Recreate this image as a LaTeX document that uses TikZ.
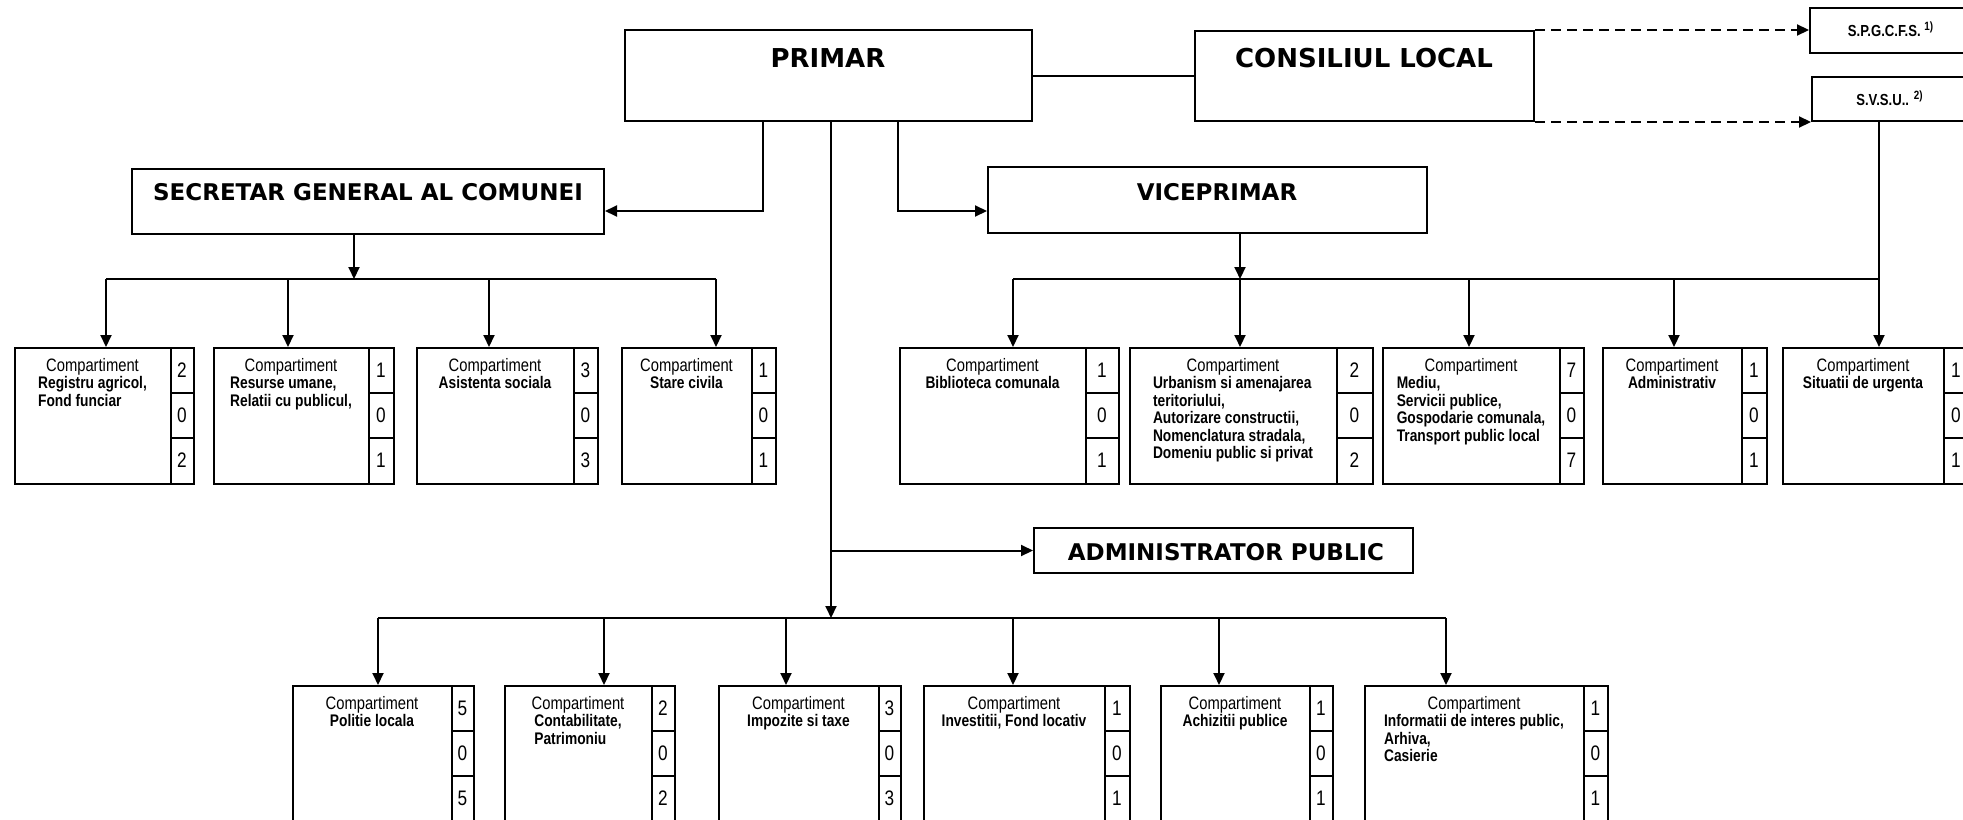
\documentclass[tikz,border=0pt]{standalone}
\usepackage{fontspec}
\newfontfamily\headfont{DejaVu Sans}
\newfontfamily\narrowfont[FakeStretch=0.82]{Liberation Sans}
\usepackage{tikz}
\usetikzlibrary{arrows.meta}
\tikzstyle{headbox}=[draw, line width=1pt, inner sep=0pt]
\tikzstyle{headtext}=[font=\headfont\bfseries\fontsize{11.5}{13}\selectfont, inner sep=0pt]
\tikzstyle{bighead}=[font=\headfont\bfseries\fontsize{13}{15}\selectfont, inner sep=0pt]
\tikzstyle{smallhead}=[font=\narrowfont\bfseries\fontsize{8}{9}\selectfont, inner sep=0pt]
\tikzstyle{compbox}=[draw, line width=1pt, inner sep=0pt, minimum height=68pt, anchor=north west]
\tikzstyle{comptext}=[font=\narrowfont\fontsize{8.4}{8.7}\selectfont, align=center, anchor=north, inner sep=0pt]
\tikzstyle{digit}=[font=\narrowfont\fontsize{10.5}{11}\selectfont, inner sep=0pt]
\tikzstyle{conn}=[line width=1pt]
\tikzstyle{arr}=[line width=1pt, -{Triangle[length=6pt,width=5.5pt]}]
\tikzstyle{dasharr}=[arr, dash pattern=on 5pt off 3pt]
\newcommand{\blk}[1]{{\bfseries\begin{tabular}[t]{@{}l@{}}#1\end{tabular}}}
\newcommand{\compbox}[9]{%
  \node[compbox, minimum width={(#5-#2)*0.5pt}] (#1) at (#2,#3) {};
  \draw[conn] (#4,#3) -- (#4,#3+136) (#4,#3+46) -- (#5,#3+46) (#4,#3+91) -- (#5,#3+91);
  \node[comptext] (#1-t) at ({(#2+#4)/2},#3+11) {{\fontsize{9}{8.7}\selectfont Compartiment}\\#6};
  \node[digit] (#1-a) at ({(#4+#5)/2},#3+23) {#7};
  \node[digit] (#1-b) at ({(#4+#5)/2},#3+68.5) {#8};
  \node[digit] (#1-c) at ({(#4+#5)/2},#3+113.5) {#9};
}

\begin{document}
\begin{tikzpicture}[x=0.5pt, y=-0.5pt]
    \useasboundingbox (0,0) rectangle (1963,819);
    \node[headbox, minimum width=203.5pt, minimum height=45.5pt] (primar) at (828.5,75.5) {};
    \node[bighead] (primar-t) at (828,58) {PRIMAR};
    \node[headbox, minimum width=169.5pt, minimum height=45pt] (consiliul) at (1364.5,76) {};
    \node[bighead] (consiliul-t) at (1364,58) {CONSILIUL LOCAL};
    \node[headbox, minimum width=81pt, minimum height=22.5pt] (spgcfs) at (1891,30.5) {};
    \node[smallhead] (spgcfs-t) at (1891,29) {S.P.G.C.F.S. \textsuperscript{1)}};
    \node[headbox, minimum width=80pt, minimum height=22pt] (svsu) at (1892,99) {};
    \node[smallhead] (svsu-t) at (1890,98) {S.V.S.U.. \textsuperscript{2)}};
    \node[headbox, minimum width=236pt, minimum height=32.5pt] (secretar) at (368,201.5) {};
    \node[headtext] (secretar-t) at (368,192) {SECRETAR GENERAL AL COMUNEI};
    \node[headbox, minimum width=219.5pt, minimum height=33pt] (viceprimar) at (1207.5,200) {};
    \node[headtext] (viceprimar-t) at (1217,192) {VICEPRIMAR};
    \node[headbox, minimum width=189.5pt, minimum height=22.5pt] (admin) at (1223.5,550.5) {};
    \node[headtext] (admin-t) at (1226,552) {ADMINISTRATOR PUBLIC};

    \draw[conn] (primar.east) -- (primar.east -| consiliul.west);
    \draw[dasharr] (consiliul.north east) -- (consiliul.north east -| spgcfs.west);
    \draw[dasharr] (consiliul.south east) -- (consiliul.south east -| svsu.west);

    \coordinate (pl) at (763,211);
    \coordinate (pr) at (898,211);
    \coordinate (pc) at (831,618);
    \draw[arr] (pl |- primar.south) -- (pl) -- (pl -| secretar.east);
    \draw[arr] (pr |- primar.south) -- (pr) -- (pr -| viceprimar.west);
    \draw[arr] (pc |- primar.south) -- (pc);
    \draw[arr] (pc |- admin.west) -- (admin.west);

    \compbox{registru}{14}{347}{171}{193}{\blk{Registru agricol,\\Fond funciar}}{2}{0}{2}
    \compbox{resurse}{213}{347}{369}{393}{\blk{Resurse umane,\\Relatii cu publicul,}}{1}{0}{1}
    \compbox{asistenta}{416}{347}{574}{597}{\blk{Asistenta sociala}}{3}{0}{3}
    \compbox{stare}{621}{347}{752}{775}{\blk{Stare civila}}{1}{0}{1}
    \coordinate (sb) at (354,279);
    \coordinate (s1) at (106,279);
    \coordinate (s2) at (288,279);
    \coordinate (s3) at (489,279);
    \coordinate (s4) at (716,279);
    \draw[arr] (sb |- secretar.south) -- (sb);
    \draw[conn] (s1) -- (s4);
    \draw[arr] (s1) -- (s1 |- registru.north);
    \draw[arr] (s2) -- (s2 |- resurse.north);
    \draw[arr] (s3) -- (s3 |- asistenta.north);
    \draw[arr] (s4) -- (s4 |- stare.north);

    \compbox{biblioteca}{899}{347}{1086}{1118}{\blk{Biblioteca comunala}}{1}{0}{1}
    \compbox{urbanism}{1129}{347}{1337}{1372}{\blk{Urbanism si amenajarea\\teritoriului,\\Autorizare constructii,\\Nomenclatura stradala,\\Domeniu public si privat}}{2}{0}{2}
    \compbox{mediu}{1382}{347}{1560}{1583}{\blk{Mediu,\\Servicii publice,\\Gospodarie comunala,\\Transport public local}}{7}{0}{7}
    \compbox{administrativ}{1602}{347}{1742}{1766}{\blk{Administrativ}}{1}{0}{1}
    \compbox{situatii}{1782}{347}{1944}{1968}{\blk{Situatii de urgenta}}{1}{0}{1}
    \coordinate (v1) at (1013,279);
    \coordinate (v2) at (1240,279);
    \coordinate (v3) at (1469,279);
    \coordinate (v4) at (1674,279);
    \coordinate (v5) at (1879,279);
    \draw[arr] (v2 |- viceprimar.south) -- (v2);
    \draw[conn] (v1) -- (v5);
    \draw[arr] (v1) -- (v1 |- biblioteca.north);
    \draw[arr] (v2) -- (v2 |- urbanism.north);
    \draw[arr] (v3) -- (v3 |- mediu.north);
    \draw[arr] (v4) -- (v4 |- administrativ.north);
    \draw[arr] (v5 |- svsu.south) -- (v5 |- situatii.north);

    \compbox{politie}{292}{685}{452}{473}{\blk{Politie locala}}{5}{0}{5}
    \compbox{contabilitate}{504}{685}{652}{674}{\blk{Contabilitate,\\Patrimoniu}}{2}{0}{2}
    \compbox{impozite}{718}{685}{879}{900}{\blk{Impozite si taxe}}{3}{0}{3}
    \compbox{investitii}{923}{685}{1105}{1129}{\blk{Investitii, Fond locativ}}{1}{0}{1}
    \compbox{achizitii}{1160}{685}{1310}{1332}{\blk{Achizitii publice}}{1}{0}{1}
    \compbox{informatii}{1364}{685}{1584}{1607}{\blk{Informatii de interes public,\\Arhiva,\\Casierie}}{1}{0}{1}
    \coordinate (l1) at (378,618);
    \coordinate (l2) at (604,618);
    \coordinate (l3) at (786,618);
    \coordinate (l4) at (1013,618);
    \coordinate (l5) at (1219,618);
    \coordinate (l6) at (1446,618);
    \draw[conn] (l1) -- (l6);
    \draw[arr] (l1) -- (l1 |- politie.north);
    \draw[arr] (l2) -- (l2 |- contabilitate.north);
    \draw[arr] (l3) -- (l3 |- impozite.north);
    \draw[arr] (l4) -- (l4 |- investitii.north);
    \draw[arr] (l5) -- (l5 |- achizitii.north);
    \draw[arr] (l6) -- (l6 |- informatii.north);
\end{tikzpicture}
\end{document}
